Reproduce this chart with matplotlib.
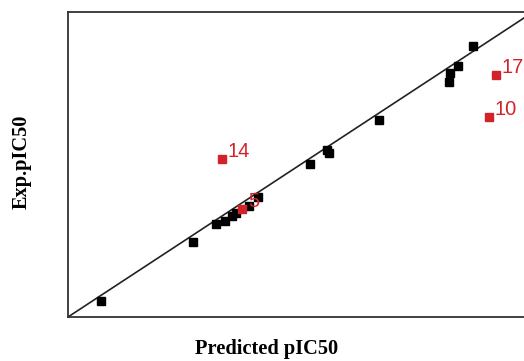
import matplotlib.pyplot as plt
import numpy as np

# predicted vs experimental pIC50 (training set, black)
pred_train = [4.29, 5.10, 5.30, 5.38, 5.44, 5.47, 5.59, 5.67, 6.12, 6.27, 6.29, 6.73, 7.34, 7.35, 7.42, 7.55]
exp_train = [4.22, 5.00, 5.24, 5.29, 5.35, 5.39, 5.49, 5.61, 6.04, 6.24, 6.20, 6.64, 7.15, 7.27, 7.36, 7.63]

# labelled compounds (red)
labels = ['5', '14', '17', '10']
pred_test = [5.53, 5.35, 7.75, 7.69]
exp_test = [5.45, 6.12, 7.24, 6.68]

red = '#d2232a'

fig = plt.figure(figsize=(5.24, 3.61), dpi=100)
ax = fig.add_axes([0.1298, 0.1219, 0.8702, 0.8449])

ax.plot([4, 8.5], [4, 8.5], color='#222222', lw=1.2, zorder=1)
ax.plot(pred_train, exp_train, 's', color='black', ms=6, zorder=2)
ax.plot(pred_test, exp_test, 's', color=red, ms=6, zorder=3)
for lab, x, y in zip(labels, pred_test, exp_test):
    ax.annotate(lab, (x, y), xytext=(4, 5), textcoords='offset points',
                ha='left', va='center', color=red, fontsize=14.5,
                family='Liberation Sans')

ax.set_xlim(4.0, 8.0)
ax.set_ylim(4.0, 8.08)
ax.set_xticks([])
ax.set_yticks([])
for s in ax.spines.values():
    s.set_linewidth(1.3)
    s.set_color('#333333')
ax.spines['right'].set_visible(False)

ax.set_xlabel('Predicted pIC50', family='Liberation Serif', fontweight='bold',
              fontsize=14.7)
ax.set_ylabel('Exp.pIC50', family='Liberation Serif', fontweight='bold',
              fontsize=14.7)
ax.xaxis.set_label_coords(0.436, -0.105)
ax.yaxis.set_label_coords(-0.101, 0.508)
ax.xaxis.label.set_va('center')
ax.yaxis.label.set_va('center')

fig.savefig('out.png', dpi=100)
